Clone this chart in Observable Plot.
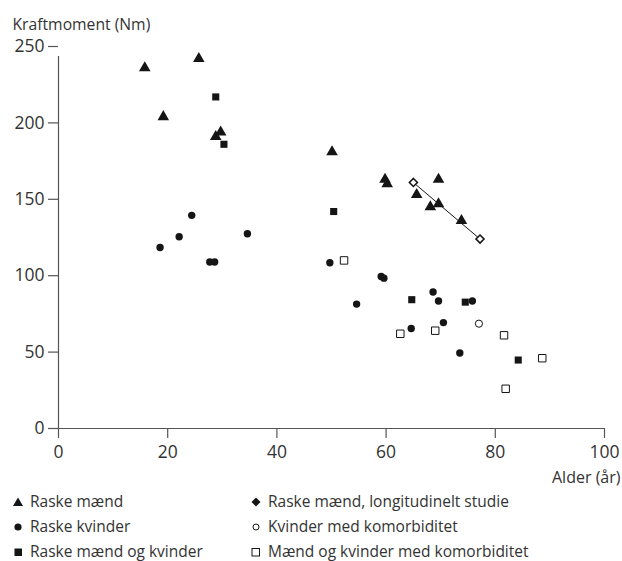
<!DOCTYPE html>
<html>
<head>
<meta charset="utf-8">
<script src="https://cdn.jsdelivr.net/npm/d3@7"></script>
<script src="https://cdn.jsdelivr.net/npm/@observablehq/plot@0.6"></script>
<style>
  body { margin: 0; background: #fff; font-family: "Open Sans", sans-serif; color: #333; }
  #chart svg { display: block; }
  .legend { position: relative; height: 73px; font-size: 15.5px; color: #333; }
  .legend .item { position: absolute; height: 25px; line-height: 25px; white-space: nowrap; }
  .legend .sym { display: inline-block; width: 18px; height: 25px; vertical-align: top; }
  .legend .sym svg { display: block; }
</style>
</head>
<body>
<div id="chart"></div>
<div class="legend" id="legend"></div>
<script>
// Raske mænd (triangles)
const maendAge = [15.8, 25.7, 19.2, 28.8, 29.7, 50.1, 59.8, 60.2, 69.6, 65.6, 69.6, 68.1, 73.8];
const maendNm  = [236, 242, 204, 191, 194, 181, 163, 160, 163, 153, 147, 145, 136];
// Raske kvinder (filled circles)
const kvinderAge = [24.4, 18.6, 22.1, 34.6, 27.7, 28.6, 49.7, 59.1, 59.6, 54.6, 68.6, 69.6, 75.8, 70.5, 64.6, 73.5];
const kvinderNm  = [139.5, 118.5, 125.5, 127.5, 109, 109, 108.5, 99.5, 98.4, 81.4, 89.3, 83.4, 83.4, 69.3, 65.4, 49.4];
// Raske mænd og kvinder (filled squares)
const beggeAge = [28.8, 30.3, 50.4, 64.7, 74.5, 84.2];
const beggeNm  = [217, 186, 142, 84.3, 82.7, 44.8];
// Raske mænd, longitudinelt studie (diamonds, connected)
const longAge = [65.0, 77.2];
const longNm  = [161, 124];
// Kvinder med komorbiditet (open circle)
const kvKomAge = [77.0];
const kvKomNm  = [68.6];
// Mænd og kvinder med komorbiditet (open squares)
const mkKomAge = [52.3, 62.6, 69.0, 81.6, 88.6, 81.9];
const mkKomNm  = [110, 62, 64, 61, 46, 26];

const xTicks = [0, 20, 40, 60, 80, 100];
const yTicks = [0, 50, 100, 150, 200, 250];
const xLabel = "Alder (år)";
const yLabel = "Kraftmoment (Nm)";

const legendTexts = [
  "Raske mænd",
  "Raske kvinder",
  "Raske mænd og kvinder",
  "Raske mænd, longitudinelt studie",
  "Kvinder med komorbiditet",
  "Mænd og kvinder med komorbiditet"
];
const legendSymbols = ["triangle", "circle", "square", "diamond", "opencircle", "opensquare"];

const pts = (ages, vals) => ages.map((a, i) => ({age: a, nm: vals[i]}));
const maend = pts(maendAge, maendNm);
const kvinder = pts(kvinderAge, kvinderNm);
const begge = pts(beggeAge, beggeNm);
const longi = pts(longAge, longNm);
const kvKom = pts(kvKomAge, kvKomNm);
const mkKom = pts(mkKomAge, mkKomNm);

const axisColor = "#555";
const ink = "#151515";

const chart = Plot.plot({
  width: 622,
  height: 488,
  marginLeft: 58,
  marginRight: 18,
  marginTop: 46,
  marginBottom: 60,
  style: {fontFamily: "'Open Sans', sans-serif", fontSize: "15px", color: "#333", background: "#fff"},
  x: {domain: [0, 100]},
  y: {domain: [0, 250]},
  marks: [
    Plot.ruleY([0], {stroke: axisColor, strokeWidth: 1.2}),
    Plot.ruleX([0], {y1: 0, y2: 250, stroke: axisColor, strokeWidth: 1.2, insetBottom: -10}),
    Plot.axisX({ticks: xTicks, tickSize: 10, tickPadding: 7, stroke: axisColor, strokeWidth: 1.2, label: null, fill: "#333", fontSize: 17.5}),
    Plot.axisY({ticks: yTicks, tickSize: 10, tickPadding: 4, stroke: axisColor, strokeWidth: 1.2, label: null, fill: "#333", fontSize: 17.5}),
    Plot.text([xLabel], {x: () => 100, y: () => 0, dx: 16, dy: 49, textAnchor: "end", fill: "#333", fontSize: 16}),
    Plot.text([yLabel], {x: () => 0, y: () => 250, dx: -46, dy: -22, textAnchor: "start", fill: "#333", fontSize: 15.7}),
    Plot.line(longi, {x: "age", y: "nm", stroke: ink, strokeWidth: 1}),
    Plot.dot(maend, {x: "age", y: "nm", symbol: "triangle", r: 4.3, fill: ink, stroke: "none"}),
    Plot.dot(kvinder, {x: "age", y: "nm", symbol: "circle", r: 3.7, fill: ink, stroke: "none"}),
    Plot.dot(begge, {x: "age", y: "nm", symbol: "square", r: 4, fill: ink, stroke: "none"}),
    Plot.dot(longi, {x: "age", y: "nm", symbol: "diamond2", r: 3.6, fill: "#fff", stroke: ink, strokeWidth: 1.6}),
    Plot.dot(kvKom, {x: "age", y: "nm", symbol: "circle", r: 3.6, fill: "#fff", stroke: ink, strokeWidth: 1}),
    Plot.dot(mkKom, {x: "age", y: "nm", symbol: "square", r: 4.2, fill: "#fff", stroke: ink, strokeWidth: 1})
  ]
});
document.getElementById("chart").appendChild(chart);

function symbolSvg(kind) {
  const c = 'fill="#151515"';
  let inner = "";
  if (kind === "triangle") inner = `<path d="M1,17 L6,8.5 L11,17 Z" ${c}/>`;
  else if (kind === "circle") inner = `<circle cx="6" cy="13" r="3.6" ${c}/>`;
  else if (kind === "square") inner = `<rect x="2.5" y="9.5" width="7.5" height="7.5" ${c}/>`;
  else if (kind === "diamond") inner = `<path d="M6,8.5 L10.5,13 L6,17.5 L1.5,13 Z" ${c}/>`;
  else if (kind === "opencircle") inner = `<circle cx="6" cy="13" r="3" fill="#fff" stroke="#151515" stroke-width="1"/>`;
  else if (kind === "opensquare") inner = `<rect x="2" y="9.5" width="7.5" height="7.5" fill="#fff" stroke="#151515" stroke-width="1"/>`;
  return `<svg width="14" height="25" viewBox="0 0 14 25">${inner}</svg>`;
}

const legend = document.getElementById("legend");
legendTexts.forEach((t, i) => {
  const col = Math.floor(i / 3), row = i % 3;
  const el = document.createElement("div");
  el.className = "item";
  el.style.left = (col === 0 ? 12 : 250) + "px";
  el.style.top = (row * 25 + 1) + "px";
  el.innerHTML = `<span class="sym">${symbolSvg(legendSymbols[i])}</span>${t}`;
  legend.appendChild(el);
});
</script>
</body>
</html>
